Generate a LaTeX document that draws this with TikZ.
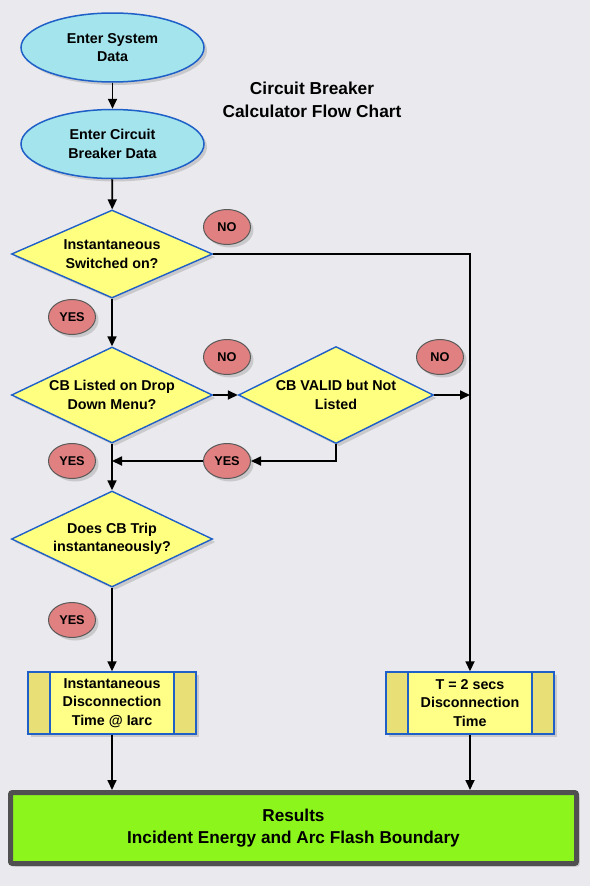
\documentclass[tikz,border=0pt]{standalone}
\usepackage{fontspec}
\setmainfont{Liberation Sans}
\usetikzlibrary{shapes.geometric, arrows.meta, shadows}

\definecolor{pagegray}{RGB}{234,233,238}
\definecolor{cbblue}{RGB}{30,95,200}
\definecolor{entrycyan}{RGB}{164,228,236}
\definecolor{askyellow}{RGB}{255,255,128}
\definecolor{boxyellow}{RGB}{255,255,136}
\definecolor{stripyellow}{RGB}{232,224,118}
\definecolor{answerred}{RGB}{224,128,128}
\definecolor{resultgreen}{RGB}{140,245,28}
\definecolor{resultrim}{RGB}{80,80,80}

\begin{document}
\begin{tikzpicture}[x=1pt, y=-1pt,
    softshadow/.style={drop shadow={shadow xshift=3pt, shadow yshift=-3pt, opacity=0.3}},
    boxfont/.style={font=\fontsize{14.3}{18.5}\selectfont\bfseries},
    entry/.style={ellipse, draw=cbblue, line width=1.5pt, fill=entrycyan, minimum width=183, minimum height=69, inner sep=0pt, align=center, softshadow, boxfont},
    decision/.style={diamond, aspect=2.09, draw=cbblue, line width=1.4pt, fill=askyellow, minimum width=201, minimum height=96, inner sep=0pt, align=center, softshadow, boxfont},
    answer/.style={ellipse, draw=black!65, line width=1pt, fill=answerred, minimum width=47, minimum height=35, inner sep=0pt, softshadow, font=\fontsize{12.7}{15}\selectfont\bfseries},
    process/.style={rectangle, draw=cbblue, line width=1.4pt, fill=boxyellow, minimum width=168, minimum height=62, inner sep=0pt, align=center, softshadow, boxfont,
        path picture={
            \fill[stripyellow] (path picture bounding box.north west) rectangle ([xshift=22pt]path picture bounding box.south west);
            \fill[stripyellow] (path picture bounding box.north east) rectangle ([xshift=-22pt]path picture bounding box.south east);
            \draw[cbblue, line width=1.4pt] ([xshift=22pt]path picture bounding box.north west) -- ([xshift=22pt]path picture bounding box.south west);
            \draw[cbblue, line width=1.4pt] ([xshift=-22pt]path picture bounding box.north east) -- ([xshift=-22pt]path picture bounding box.south east);
        }},
    result/.style={rectangle, draw=resultrim, line width=5pt, rounded corners=2pt, fill=resultgreen, minimum width=566, minimum height=71, align=center, softshadow, font=\fontsize{17.2}{22.5}\selectfont\bfseries},
    flow/.style={-{Triangle[length=10pt,width=9pt]}, line width=1.7pt}
]

% page
\useasboundingbox (0,0) rectangle (590,886);
\fill[pagegray] (0,0) rectangle (590,886);

% title
\node[align=center, font=\fontsize{17.3}{23}\selectfont\bfseries] (title) at (312,100) {Circuit Breaker\\Calculator Flow Chart};

% input steps
\node[entry] (sys) at (112.5,47.5) {Enter System\\Data};
\node[entry] (cbdata) at (112.5,144) {Enter Circuit\\Breaker Data};

% questions
\node[decision, minimum height=88] (inst) at (112,254) {Instantaneous\\Switched on?};
\node[decision] (listed) at (112,395) {CB Listed on Drop\\Down Menu?};
\node[decision, minimum width=195, minimum height=97] (valid) at (336,395) {CB VALID but Not\\Listed};
\node[decision] (trip) at (112,539) {Does CB Trip\\instantaneously?};

% disconnection times
\node[process] (tinst) at (112,703) {Instantaneous\\Disconnection\\Time @ Iarc};
\node[process] (t2) at (470,703) {T = 2 secs\\Disconnection\\Time};

% results
\node[result] (res) at (293.5,828) {Results\\Incident Energy and Arc Flash Boundary};

% connectors
\draw[flow] (sys) -- (cbdata);
\draw[flow] (cbdata) -- (inst);
\draw[flow] (inst.east) -| (t2.north);
\draw[flow] (inst.south) -- (listed.north);
\draw[flow] (listed.east) -- (valid.west);
\draw[flow] (valid.east) -- (valid.east -| t2.north);
\draw[flow] (listed.south) -- (trip.north);
\draw[flow] (trip.south) -- (tinst.north);
\draw[flow] (tinst.south) -- (tinst.south |- res.north);
\draw[flow] (t2.south) -- (t2.south |- res.north);

% YES / NO tags
\foreach \n/\x/\y/\t in {no1/227/227/NO, yes1/72/317/YES, no2/227/357/NO, no3/440/357/NO,
                         yes2/72/461/YES, yes3/227/461/YES, yes4/72/620/YES}
{
    \node[answer] (\n) at (\x,\y) {\t};
}

\draw[flow] (valid.south) |- (yes3.east);
\draw[flow] (yes3.west) -- (yes3.west -| listed.south);

\end{tikzpicture}
\end{document}
